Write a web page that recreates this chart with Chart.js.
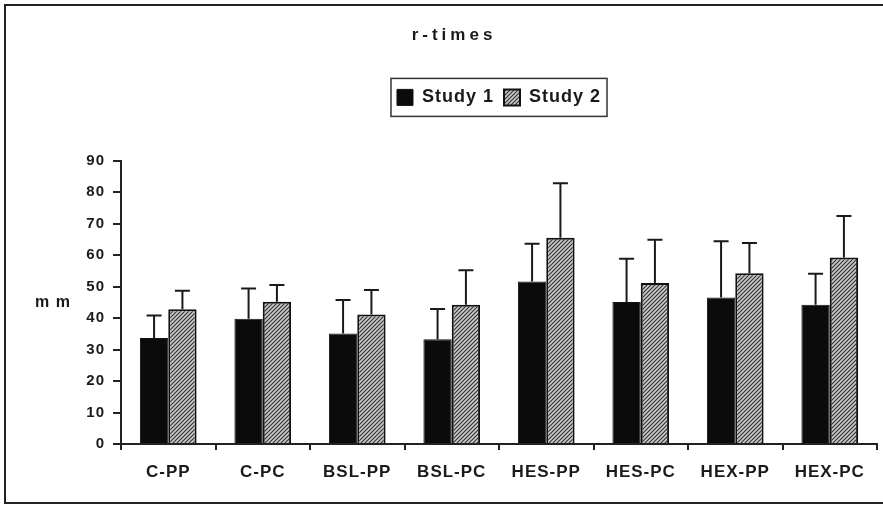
<!DOCTYPE html>
<html>
<head>
<meta charset="utf-8">
<script src="https://cdn.jsdelivr.net/npm/chart.js@4/dist/chart.umd.min.js"></script>
<style>
  html, body { margin: 0; padding: 0; background: #fff; }
  #wrap { width: 883px; height: 513px; }
</style>
</head>
<body>
<div id="wrap"><canvas id="rtimes" width="883" height="513"></canvas></div>
<script>
// r-times, two studies, mean + SD (upward error bar only)
const categories = ['C-PP', 'C-PC', 'BSL-PP', 'BSL-PC', 'HES-PP', 'HES-PC', 'HEX-PP', 'HEX-PC'];
const study1 = [33.7, 39.8, 35.1, 33.3, 51.6, 45.1, 46.5, 44.2];
const study1Sd = [7.1, 9.6, 10.6, 9.6, 12.0, 13.7, 17.9, 9.9];
const study2 = [42.8, 45.2, 41.1, 44.2, 65.5, 51.1, 54.2, 59.2];
const study2Sd = [5.9, 5.3, 7.8, 11.0, 17.3, 13.8, 9.6, 13.2];
const yTicks = [0, 10, 20, 30, 40, 50, 60, 70, 80, 90];

const FONT = "'Liberation Sans', Arial, sans-serif";
const INK = '#1a1a1a';

function hatch() {
    const c = document.createElement('canvas');
    c.width = 4; c.height = 4;
    const g = c.getContext('2d');
    g.fillStyle = '#c8c8c8';
    g.fillRect(0, 0, 4, 4);
    g.strokeStyle = '#333';
    g.lineWidth = 1.1;
    g.beginPath();
    g.moveTo(-1, 5); g.lineTo(5, -1);
    g.moveTo(-1, 1); g.lineTo(1, -1);
    g.moveTo(3, 5); g.lineTo(5, 3);
    g.stroke();
    return g.createPattern(c, 'repeat');
}

// slightly spaced lettering like the scanned original
const spacing = {
    id: 'spacing',
    beforeUpdate(chart) { chart.ctx.letterSpacing = '1px'; }
};

// outer frame, title, legend frame and the horizontal "m m" label
const framePlugin = {
    id: 'frame',
    beforeDraw(chart) {
        const ctx = chart.ctx;
        ctx.save();
        ctx.fillStyle = '#fff';
        ctx.fillRect(0, 0, chart.width, chart.height);
        ctx.strokeStyle = '#222';
        ctx.lineWidth = 2;
        ctx.strokeRect(5, 5, chart.width + 10, 498);
        ctx.restore();
    },
    afterDraw(chart) {
        const ctx = chart.ctx;
        const lg = chart.legend;
        ctx.save();
        if (lg && lg.legendHitBoxes.length) {
            const hb = lg.legendHitBoxes;
            const l = hb[0].left - 6;
            const r = hb[hb.length - 1].left + hb[hb.length - 1].width + 6;
            const t = hb[0].top - 10;
            const b = hb[0].top + hb[0].height + 10;
            ctx.strokeStyle = '#333';
            ctx.lineWidth = 1.5;
            ctx.strokeRect(l, t, r - l, b - t);
        }
        ctx.fillStyle = INK;
        ctx.textAlign = 'center';
        ctx.textBaseline = 'middle';
        ctx.letterSpacing = '4px';
        ctx.font = 'bold 17px ' + FONT;
        ctx.fillText('r-times', 454, 35);
        ctx.letterSpacing = '1px';
        ctx.font = 'bold 16px ' + FONT;
        ctx.fillText('m m', 53, (chart.chartArea.top + chart.chartArea.bottom) / 2);
        ctx.restore();
    }
};

const errorBars = {
    id: 'errorBars',
    afterDatasetsDraw(chart) {
        const ctx = chart.ctx;
        const y = chart.scales.y;
        const sds = [study1Sd, study2Sd];
        ctx.save();
        ctx.strokeStyle = INK;
        ctx.lineWidth = 2;
        chart.data.datasets.forEach((ds, di) => {
            chart.getDatasetMeta(di).data.forEach((bar, i) => {
                const top = y.getPixelForValue(ds.data[i] + sds[di][i]);
                ctx.beginPath();
                ctx.moveTo(bar.x, bar.y);
                ctx.lineTo(bar.x, top);
                ctx.moveTo(bar.x - 7.5, top);
                ctx.lineTo(bar.x + 7.5, top);
                ctx.stroke();
            });
        });
        ctx.restore();
    }
};

new Chart(document.getElementById('rtimes'), {
    type: 'bar',
    data: {
        labels: categories,
        datasets: [
            { label: 'Study 1', data: study1, backgroundColor: '#0b0b0b', borderColor: '#111', borderWidth: 1 },
            { label: 'Study 2', data: study2, backgroundColor: hatch(), borderColor: '#111', borderWidth: 2 }
        ]
    },
    options: {
        responsive: false,
        animation: false,
        events: [],
        layout: { padding: { left: 10, right: 6, top: 78.4, bottom: 10 } },
        datasets: { bar: { categoryPercentage: 0.6, barPercentage: 1.0 } },
        plugins: {
            title: { display: false },
            legend: {
                display: true,
                position: 'top',
                fullSize: false,
                weight: 1800,
                labels: {
                    color: INK,
                    font: { family: FONT, size: 18, weight: 'bold' },
                    boxWidth: 16,
                    boxHeight: 16,
                    padding: 10
                }
            },
            // empty spacer between legend and plot
            subtitle: {
                display: true,
                text: ' ',
                weight: 1500,
                font: { size: 1 },
                padding: { top: 0, bottom: 43 }
            },
            tooltip: { enabled: false }
        },
        scales: {
            x: {
                afterFit: s => { s.height = 59; },
                grid: { display: true, offset: true, drawOnChartArea: false, tickLength: 6, color: '#222', lineWidth: 2 },
                border: { display: true, color: '#222', width: 2 },
                ticks: { color: INK, padding: 12, font: { family: FONT, size: 17, weight: 'bold' } }
            },
            y: {
                min: 0,
                max: 90,
                afterFit: s => { s.width = 111; },
                afterBuildTicks: s => { s.ticks = yTicks.map(v => ({ value: v })); },
                grid: { display: true, drawOnChartArea: false, tickLength: 8, color: '#222', lineWidth: 2 },
                border: { display: true, color: '#222', width: 2 },
                ticks: { color: INK, padding: 8, font: { family: FONT, size: 15, weight: 'bold' } }
            }
        }
    },
    plugins: [spacing, framePlugin, errorBars]
});
</script>
</body>
</html>
